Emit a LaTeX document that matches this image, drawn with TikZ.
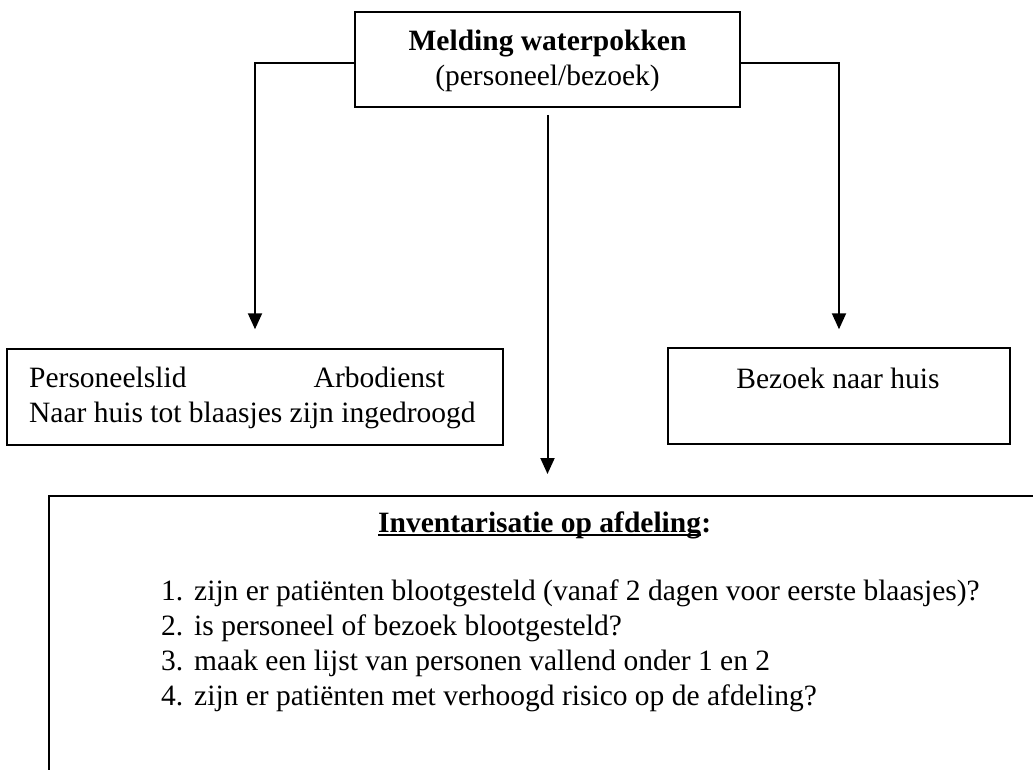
\documentclass[tikz,border=0pt]{standalone}
\usepackage{fontspec}
\setmainfont{Liberation Serif}
\usetikzlibrary{arrows.meta}
\begin{document}
\begin{tikzpicture}[x=1pt,y=-1pt,
  box/.style={draw, line width=1.5pt, inner sep=0pt},
  txt/.style={inner sep=0pt, font=\fontsize{29.5}{35}\selectfont},
  arr/.style={line width=2pt, -{Triangle[length=16pt,width=14pt]}}]
\clip (0,0) rectangle (1033,769);
\fill[white] (0,0) rectangle (1033,769);
% boxes
\node[box, minimum width=385pt, minimum height=95pt] (top) at (547.5,59.5) {};
\node[box, minimum width=496pt, minimum height=96pt] (pers) at (255,397) {};
\node[box, minimum width=342pt, minimum height=96pt] (bez) at (839,396) {};
\node[box, anchor=north west, minimum width=1050pt, minimum height=400pt] (inv) at (48,495) {};
% texts
\node[txt, anchor=base] (t1) at (547.5,50) {\bfseries Melding waterpokken};
\node[txt, anchor=base] (t2) at (547.5,85) {(personeel/bezoek)};
\node[txt, anchor=base west] (p1) at (29,387) {Personeelslid};
\node[txt, anchor=base east] (p2) at (445,387) {Arbodienst};
\node[txt, anchor=base west] (p3) at (29,422) {Naar huis tot blaasjes zijn ingedroogd};
\node[txt, anchor=base] (b1) at (838,388) {Bezoek naar huis};
\node[txt, anchor=base west] (it) at (378,532) {\bfseries Inventarisatie op afdeling};
\node[txt, anchor=base west] (ic) at (it.base east) {\bfseries :};
\draw[line width=1.5pt] ([yshift=-3pt]it.base west) -- ([yshift=-3pt]it.base east);
\node[txt, anchor=base west] (n1) at (161,600) {1.};
\node[txt, anchor=base west] (l1) at (194,600) {zijn er patiënten blootgesteld (vanaf 2 dagen voor eerste blaasjes)?};
\node[txt, anchor=base west] (n2) at (161,635) {2.};
\node[txt, anchor=base west] (l2) at (194,635) {is personeel of bezoek blootgesteld?};
\node[txt, anchor=base west] (n3) at (161,670) {3.};
\node[txt, anchor=base west] (l3) at (194,670) {maak een lijst van personen vallend onder 1 en 2};
\node[txt, anchor=base west] (n4) at (161,705) {4.};
\node[txt, anchor=base west] (l4) at (194,705) {zijn er patiënten met verhoogd risico op de afdeling?};
% connectors
\coordinate (ct) at (top.south |- inv.north);
\draw[arr] ([yshift=-3.5pt]top.west) -| ([yshift=19pt]pers.north);
\draw[arr] ([yshift=-3.5pt]top.east) -| ([yshift=18pt]bez.north);
\draw[arr] ([yshift=-7pt]top.south) -- ([yshift=21pt]ct);
\end{tikzpicture}
\end{document}
